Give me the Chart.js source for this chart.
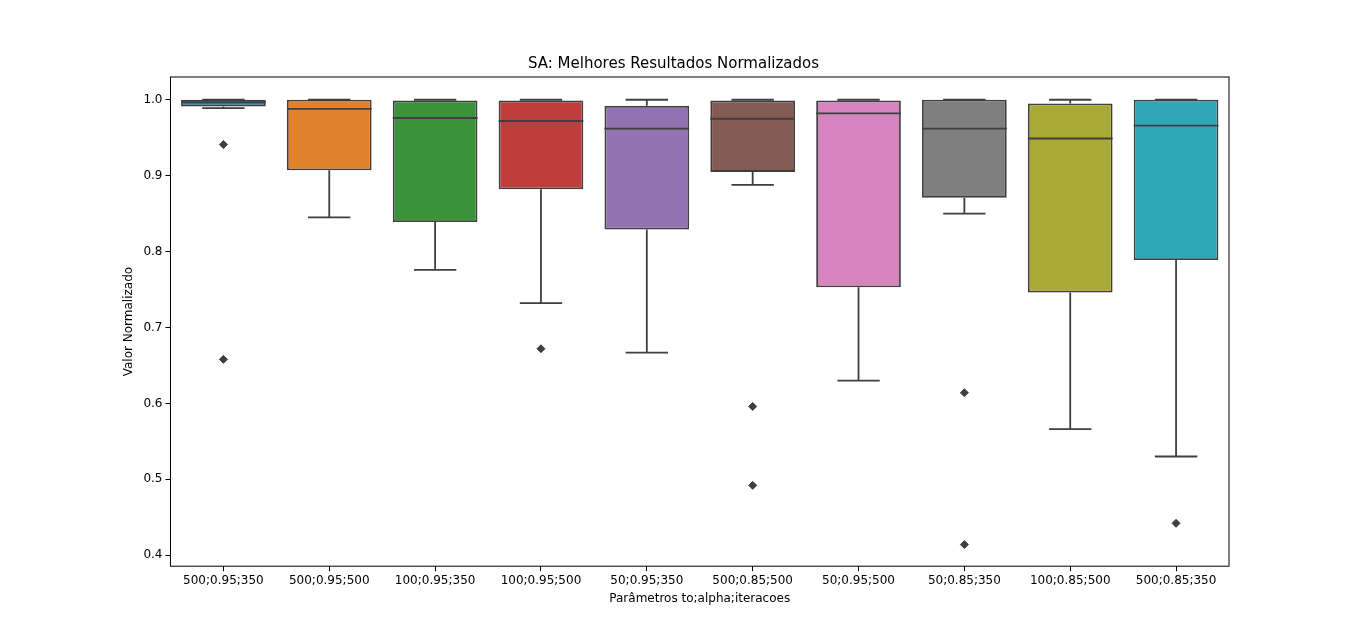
<!DOCTYPE html>
<html>
<head>
<meta charset="utf-8">
<script src="https://cdn.jsdelivr.net/npm/chart.js@4.4.0/dist/chart.umd.min.js"></script>
<style>
  html, body { margin: 0; padding: 0; background: #fff; }
  #wrap { width: 1366px; height: 636px; }
</style>
</head>
<body>
<div id="wrap"><canvas id="chart"></canvas></div>
<script>
// Boxplot SA
const labels = ['500;0.95;350', '500;0.95;500', '100;0.95;350', '100;0.95;500', '50;0.95;350',
  '500;0.85;500', '50;0.95;500', '50;0.85;350', '100;0.85;500', '500;0.85;350'];
const q1 = [0.991, 0.907, 0.839, 0.882, 0.829, 0.905, 0.753, 0.871, 0.746, 0.789];
const q3 = [1.0, 1.0, 0.999, 0.999, 0.992, 0.999, 0.999, 1.0, 0.995, 1.0];
const medians = [0.997, 0.988, 0.976, 0.972, 0.962, 0.975, 0.982, 0.962, 0.949, 0.966];
const whiskerLow = [0.989, 0.845, 0.776, 0.732, 0.667, 0.888, 0.630, 0.850, 0.566, 0.530];
const whiskerHigh = [1.0, 1.0, 1.0, 1.0, 1.0, 1.0, 1.0, 1.0, 1.0, 1.0];
const outliers = [
  [0.941, 0.658], [], [], [0.672], [], [0.596, 0.492], [], [0.614, 0.414], [], [0.442]
];
const colors = ['#3274a1', '#e1812c', '#3a923a', '#c03d3e', '#9372b2',
  '#845b53', '#d684bd', '#7f7f7f', '#a9aa35', '#2ea8b6'];
const lineColor = '#3f3f3f';

const outlierPoints = [];
outliers.forEach((vals, i) => vals.forEach(v => outlierPoints.push({ x: labels[i], y: v })));

// desenha medianas, bigodes e moldura
const boxExtras = {
  id: 'boxExtras',
  afterDatasetsDraw(chart) {
    const ctx = chart.ctx;
    const xs = chart.scales.x, ys = chart.scales.y;
    const meta = chart.getDatasetMeta(0);
    ctx.save();
    ctx.strokeStyle = lineColor;
    ctx.lineWidth = 1.8;
    labels.forEach((_, i) => {
      const bar = meta.data[i];
      const cx = xs.getPixelForValue(i);
      const half = bar.width / 2;
      const cap = half / 2;
      const yMed = ys.getPixelForValue(medians[i]);
      const yQ1 = ys.getPixelForValue(q1[i]);
      const yQ3 = ys.getPixelForValue(q3[i]);
      const yLo = ys.getPixelForValue(whiskerLow[i]);
      const yHi = ys.getPixelForValue(whiskerHigh[i]);
      ctx.beginPath();
      ctx.moveTo(cx - half, yMed); ctx.lineTo(cx + half, yMed);
      ctx.moveTo(cx, yQ1); ctx.lineTo(cx, yLo);
      ctx.moveTo(cx - cap, yLo); ctx.lineTo(cx + cap, yLo);
      ctx.moveTo(cx, yQ3); ctx.lineTo(cx, yHi);
      ctx.moveTo(cx - cap, yHi); ctx.lineTo(cx + cap, yHi);
      ctx.stroke();
    });
    const a = chart.chartArea;
    ctx.strokeStyle = '#000';
    ctx.lineWidth = 1;
    ctx.strokeRect(a.left, a.top, a.right - a.left, a.bottom - a.top);
    ctx.restore();
  }
};

Chart.defaults.font.family = 'DejaVu Sans';
Chart.defaults.font.size = 12;
Chart.defaults.color = '#000';

new Chart(document.getElementById('chart'), {
  type: 'bar',
  data: {
    labels: labels,
    datasets: [{
      type: 'bar',
      data: labels.map((_, i) => [q1[i], q3[i]]),
      backgroundColor: colors,
      borderColor: lineColor,
      borderWidth: 1.8,
      borderSkipped: false,
      categoryPercentage: 0.8,
      barPercentage: 1.0
    }, {
      type: 'line',
      data: outlierPoints,
      showLine: false,
      pointStyle: 'rectRot',
      pointRadius: 4,
      pointBackgroundColor: lineColor,
      pointBorderColor: lineColor
    }]
  },
  options: {
    responsive: true,
    maintainAspectRatio: false,
    animation: false,
    layout: { padding: { left: 118, right: 137, top: 55, bottom: 26 } },
    plugins: {
      legend: { display: false },
      tooltip: { enabled: false },
      title: {
        display: true,
        text: 'SA: Melhores Resultados Normalizados',
        font: { size: 15, weight: 'normal' },
        color: '#000',
        padding: { top: 0, bottom: 4 }
      }
    },
    scales: {
      x: {
        grid: { display: true, drawOnChartArea: false, tickLength: 5, color: '#000', offset: false },
        border: { display: false },
        ticks: { color: '#000', maxRotation: 0, padding: 2 },
        title: { display: true, text: 'Parâmetros to;alpha;iteracoes', color: '#000', padding: { top: 2 } }
      },
      y: {
        min: 0.3855,
        max: 1.03,
        grid: { display: true, drawOnChartArea: false, tickLength: 5, color: '#000' },
        border: { display: false },
        ticks: {
          color: '#000',
          stepSize: 0.1,
          callback: v => (Math.abs(v * 10 - Math.round(v * 10)) < 1e-6 ? v.toFixed(1) : null)
        },
        afterBuildTicks: axis => {
          axis.ticks = [0.4, 0.5, 0.6, 0.7, 0.8, 0.9, 1.0].map(v => ({ value: v }));
        },
        title: { display: true, text: 'Valor Normalizado', color: '#000' }
      }
    }
  },
  plugins: [boxExtras]
});
</script>
</body>
</html>
